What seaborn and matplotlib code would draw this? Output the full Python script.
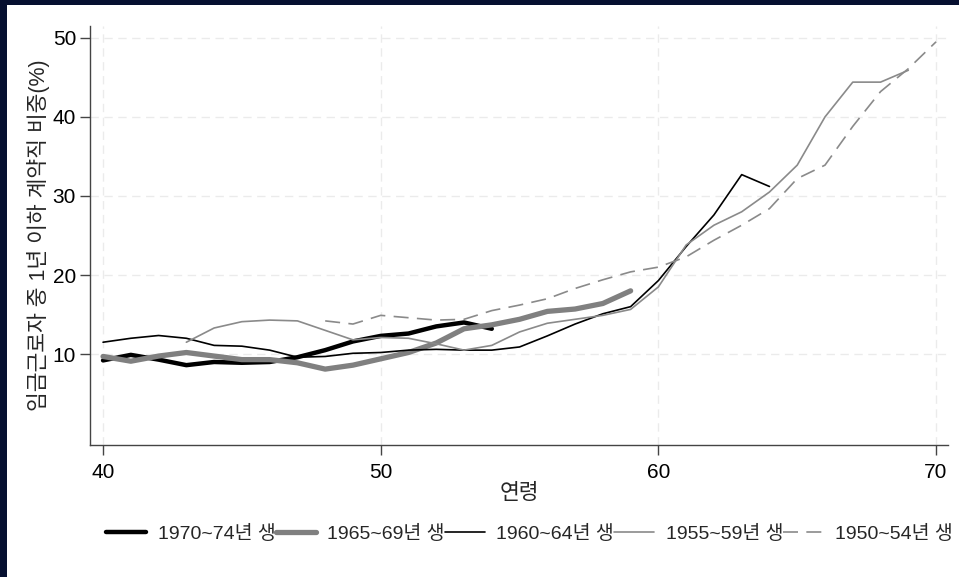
import numpy as np
import pandas as pd
import matplotlib
matplotlib.use('Agg')
import matplotlib.pyplot as plt
from matplotlib.lines import Line2D
from matplotlib.patches import Rectangle
import seaborn as sns

# 출생 코호트별 연령대 계약직 비중 (%)
age_7074 = list(range(40, 55))
val_7074 = [9.2, 9.9, 9.3, 8.6, 9.0, 8.9, 9.0, 9.6, 10.5, 11.6, 12.3, 12.6, 13.5, 14.0, 13.2]

age_6569 = list(range(40, 60))
val_6569 = [9.7, 9.1, 9.75, 10.2, 9.75, 9.3, 9.3, 8.9, 8.1, 8.6, 9.4, 10.2, 11.4, 13.2, 13.7,
            14.4, 15.4, 15.7, 16.4, 18.0]

age_6064 = list(range(40, 65))
val_6064 = [11.5, 12.0, 12.35, 12.0, 11.1, 11.0, 10.5, 9.6, 9.7, 10.1, 10.2, 10.5, 10.6, 10.5,
            10.5, 10.9, 12.3, 13.8, 15.1, 16.0, 19.3, 23.6, 27.6, 32.7, 31.2]

age_5559 = list(range(43, 70))
val_5559 = [11.5, 13.3, 14.1, 14.3, 14.2, 13.0, 11.8, 12.1, 12.0, 11.3, 10.5, 11.1, 12.8, 13.9,
            14.4, 14.9, 15.65, 18.5, 23.8, 26.3, 28.0, 30.5, 33.9, 40.0, 44.4, 44.4, 45.9]

age_5054 = list(range(48, 71))
val_5054 = [14.2, 13.8, 14.9, 14.6, 14.3, 14.4, 15.5, 16.2, 17.0, 18.3, 19.4, 20.4, 21.0, 22.3,
            24.4, 26.3, 28.4, 32.2, 33.9, 38.8, 43.2, 46.1, 49.5]

labels = ['1970~74년 생', '1965~69년 생', '1960~64년 생', '1955~59년 생', '1950~54년 생']

series = [
    (labels[0], age_7074, val_7074, '#000000', 3.2, '-'),
    (labels[1], age_6569, val_6569, '#808080', 3.8, '-'),
    (labels[2], age_6064, val_6064, '#000000', 1.2, '-'),
    (labels[3], age_5559, val_5559, '#8a8a8a', 1.2, '-'),
    (labels[4], age_5054, val_5054, '#8a8a8a', 1.2, (0, (9, 5))),
]

sns.set_style('white')
plt.rcParams['font.family'] = ['Liberation Sans', 'Noto Sans CJK KR', 'DejaVu Sans']

fig = plt.figure(figsize=(9.59, 5.77), dpi=100)
fig.patch.set_facecolor('#061030')
fig.patches.append(Rectangle((7 / 959, 0), 1, (577 - 5) / 577, transform=fig.transFigure,
                             facecolor='white', edgecolor='none', zorder=-5))

ax = fig.add_axes([90 / 959, 1 - 445 / 577, (948 - 90) / 959, (445 - 26) / 577])
ax.set_facecolor('white')

handles = []
for name, ages, vals, color, lw, ls in series:
    df = pd.DataFrame({'age': ages, 'val': vals})
    sns.lineplot(data=df, x='age', y='val', ax=ax, color=color, linewidth=lw,
                 linestyle=ls, legend=False)
    handles.append(Line2D([0], [0], color=color, linewidth=lw, linestyle=ls))

ax.set_xlim(39.53, 70.43)
ax.set_ylim(-1.5, 51.5)
ax.set_xticks([40, 50, 60, 70])
ax.set_yticks([10, 20, 30, 40, 50])
ax.grid(True, color='#ebebeb', linestyle=(0, (6, 4)), linewidth=1.0)
ax.set_axisbelow(True)

for s in ['top', 'right']:
    ax.spines[s].set_visible(False)
for s in ['left', 'bottom']:
    ax.spines[s].set_color('#444444')
    ax.spines[s].set_linewidth(1.0)

ax.tick_params(axis='both', which='both', direction='out', length=7, width=1,
               color='#444444', labelsize=15, labelcolor='black', pad=3,
               bottom=True, left=True)
ax.tick_params(axis='x', pad=6)

ax.set_xlabel('연령', fontsize=15.5, labelpad=1)
ax.set_ylabel('임금근로자 중 1년 이하 계약직 비중(%)', fontsize=15.5, labelpad=2)

fig.legend(handles, labels, loc='center', bbox_to_anchor=(0.552, 0.075), ncol=5,
           frameon=False, fontsize=14, handlelength=2.05, handletextpad=0.6,
           columnspacing=0.0)

fig.savefig('out.png', dpi=100, facecolor=fig.get_facecolor())
